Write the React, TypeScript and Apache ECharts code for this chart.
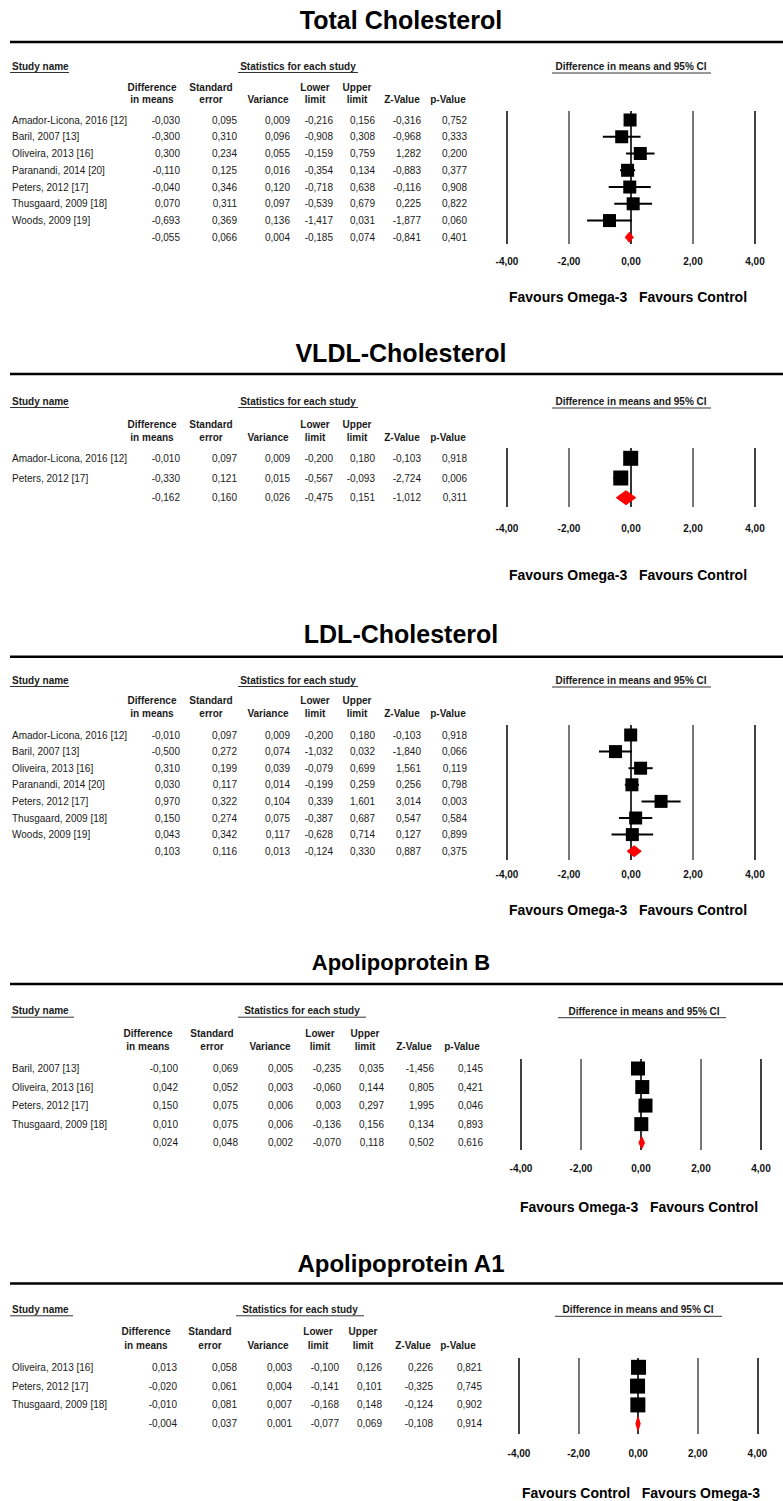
import React, { useEffect, useRef } from "react";
import * as echarts from "echarts";

// ---------- Data ----------
const tickValues = [-4, -2, 0, 2, 4];

const tcStudies = ["Amador-Licona, 2016 [12]", "Baril, 2007 [13]", "Oliveira, 2013 [16]", "Paranandi, 2014 [20]", "Peters, 2012 [17]", "Thusgaard, 2009 [18]", "Woods, 2009 [19]"];
const tcDiff = [-0.03, -0.3, 0.3, -0.11, -0.04, 0.07, -0.693, -0.055];
const tcSE = [0.095, 0.31, 0.234, 0.125, 0.346, 0.311, 0.369, 0.066];
const tcVar = [0.009, 0.096, 0.055, 0.016, 0.12, 0.097, 0.136, 0.004];
const tcLower = [-0.216, -0.908, -0.159, -0.354, -0.718, -0.539, -1.417, -0.185];
const tcUpper = [0.156, 0.308, 0.759, 0.134, 0.638, 0.679, 0.031, 0.074];
const tcZ = [-0.316, -0.968, 1.282, -0.883, -0.116, 0.225, -1.877, -0.841];
const tcP = [0.752, 0.333, 0.2, 0.377, 0.908, 0.822, 0.06, 0.401];

const vlStudies = ["Amador-Licona, 2016 [12]", "Peters, 2012 [17]"];
const vlDiff = [-0.01, -0.33, -0.162];
const vlSE = [0.097, 0.121, 0.16];
const vlVar = [0.009, 0.015, 0.026];
const vlLower = [-0.2, -0.567, -0.475];
const vlUpper = [0.18, -0.093, 0.151];
const vlZ = [-0.103, -2.724, -1.012];
const vlP = [0.918, 0.006, 0.311];

const ldStudies = ["Amador-Licona, 2016 [12]", "Baril, 2007 [13]", "Oliveira, 2013 [16]", "Paranandi, 2014 [20]", "Peters, 2012 [17]", "Thusgaard, 2009 [18]", "Woods, 2009 [19]"];
const ldDiff = [-0.01, -0.5, 0.31, 0.03, 0.97, 0.15, 0.043, 0.103];
const ldSE = [0.097, 0.272, 0.199, 0.117, 0.322, 0.274, 0.342, 0.116];
const ldVar = [0.009, 0.074, 0.039, 0.014, 0.104, 0.075, 0.117, 0.013];
const ldLower = [-0.2, -1.032, -0.079, -0.199, 0.339, -0.387, -0.628, -0.124];
const ldUpper = [0.18, 0.032, 0.699, 0.259, 1.601, 0.687, 0.714, 0.33];
const ldZ = [-0.103, -1.84, 1.561, 0.256, 3.014, 0.547, 0.127, 0.887];
const ldP = [0.918, 0.066, 0.119, 0.798, 0.003, 0.584, 0.899, 0.375];

const abStudies = ["Baril, 2007 [13]", "Oliveira, 2013 [16]", "Peters, 2012 [17]", "Thusgaard, 2009 [18]"];
const abDiff = [-0.1, 0.042, 0.15, 0.01, 0.024];
const abSE = [0.069, 0.052, 0.075, 0.075, 0.048];
const abVar = [0.005, 0.003, 0.006, 0.006, 0.002];
const abLower = [-0.235, -0.06, 0.003, -0.136, -0.07];
const abUpper = [0.035, 0.144, 0.297, 0.156, 0.118];
const abZ = [-1.456, 0.805, 1.995, 0.134, 0.502];
const abP = [0.145, 0.421, 0.046, 0.893, 0.616];

const aaStudies = ["Oliveira, 2013 [16]", "Peters, 2012 [17]", "Thusgaard, 2009 [18]"];
const aaDiff = [0.013, -0.02, -0.01, -0.004];
const aaSE = [0.058, 0.061, 0.081, 0.037];
const aaVar = [0.003, 0.004, 0.007, 0.001];
const aaLower = [-0.1, -0.141, -0.168, -0.077];
const aaUpper = [0.126, 0.101, 0.148, 0.069];
const aaZ = [0.226, -0.325, -0.124, -0.108];
const aaP = [0.821, 0.745, 0.902, 0.914];

const titles = ["Total Cholesterol", "VLDL-Cholesterol", "LDL-Cholesterol", "Apolipoprotein B", "Apolipoprotein A1"];
const favoursText = [
  "Favours Omega-3   Favours Control",
  "Favours Omega-3   Favours Control",
  "Favours Omega-3   Favours Control",
  "Favours Omega-3   Favours Control",
  "Favours Control   Favours Omega-3",
];
const headLine1 = ["Difference", "Standard", "", "Lower", "Upper", "", ""];
const headLine2 = ["in means", "error", "Variance", "limit", "limit", "Z-Value", "p-Value"];

const panels = [
  { studies: tcStudies, cols: [tcDiff, tcSE, tcVar, tcLower, tcUpper, tcZ, tcP] },
  { studies: vlStudies, cols: [vlDiff, vlSE, vlVar, vlLower, vlUpper, vlZ, vlP] },
  { studies: ldStudies, cols: [ldDiff, ldSE, ldVar, ldLower, ldUpper, ldZ, ldP] },
  { studies: abStudies, cols: [abDiff, abSE, abVar, abLower, abUpper, abZ, abP] },
  { studies: aaStudies, cols: [aaDiff, aaSE, aaVar, aaLower, aaUpper, aaZ, aaP] },
];

// ---------- Layout (pixels) ----------
const colsA = { right: [180, 237, 290, 333, 375, 421, 467], head: [152, 211, 268, 315, 357, 402, 448] };
const layouts = [
  { titleY: 19.5, titleSize: 25, ruleY: 42, subY: 66, h1: 87, h2: 99, rowStart: 120, rowStep: 16.76, gTop: 111, gBot: 244, xL: 507, xR: 755, margin: 12, favY: 296.7, favX: 628, ciX: 631, ciU: [552, 711], statX: 298, statU: [238, 358], studyU: [10, 69], cols: colsA, sq: 13, dh: 5 },
  { titleY: 353, titleSize: 25, ruleY: 374, subY: 401, h1: 424, h2: 437, rowStart: 458.3, rowStep: 19.7, gTop: 448, gBot: 507, xL: 507, xR: 755, margin: 16, favY: 575, favX: 628, ciX: 631, ciU: [552, 711], statX: 298, statU: [238, 358], studyU: [10, 69], cols: colsA, sq: 15, dh: 7 },
  { titleY: 634, titleSize: 25, ruleY: 656.7, subY: 680, h1: 700.7, h2: 713.7, rowStart: 735, rowStep: 16.6, gTop: 725, gBot: 860, xL: 507, xR: 755, margin: 9.5, favY: 910, favX: 628, ciX: 631, ciU: [552, 711], statX: 298, statU: [238, 358], studyU: [10, 69], cols: colsA, sq: 13, dh: 5.5 },
  { titleY: 962, titleSize: 22, ruleY: 984, subY: 1010.7, h1: 1033.3, h2: 1046, rowStart: 1068.5, rowStep: 18.55, gTop: 1059, gBot: 1150, xL: 521, xR: 761, margin: 13, favY: 1206.7, favX: 639, ciX: 644, ciU: [558, 726], statX: 302, statU: [238, 366], studyU: [11, 74], cols: { right: [178, 238, 293, 341, 384, 434, 483], head: [148, 212, 270, 320, 365, 414, 462] }, sq: 14, dh: 6 },
  { titleY: 1263, titleSize: 24, ruleY: 1283.5, subY: 1309.3, h1: 1331.7, h2: 1345, rowStart: 1367.3, rowStep: 18.8, gTop: 1358, gBot: 1434, xL: 519, xR: 757.3, margin: 14, favY: 1493.3, favX: 641, ciX: 638, ciU: [555, 722], statX: 300, statU: [236, 364], studyU: [10, 73], cols: { right: [177, 237, 292, 339, 382, 433, 482], head: [146, 210, 268, 318, 363, 413, 458] }, sq: 15, dh: 7 },
];

const FONT = "'Liberation Sans', Arial, Helvetica, sans-serif";
const fmt = (v: number) => v.toFixed(3).replace(".", ",");
const tickFmt = (v: number) => v.toFixed(2).replace(".", ",");

function txt(x: number, y: number, text: string, size: number, bold: boolean, align: string, fill = "#1a1a1a") {
  return {
    type: "text",
    x,
    y,
    silent: true,
    style: { text, fontSize: size, fontWeight: bold ? "bold" : "normal", fontFamily: FONT, fill, align, verticalAlign: "middle" },
  };
}
function ln(x1: number, y1: number, x2: number, y2: number, w: number, color = "#000") {
  return { type: "line", silent: true, shape: { x1, y1, x2, y2 }, style: { stroke: color, lineWidth: w } };
}

function buildOption() {
  const graphic: any[] = [];
  const grid: any[] = [];
  const xAxis: any[] = [];
  const yAxis: any[] = [];
  const series: any[] = [];

  panels.forEach((p, i) => {
    const L = layouts[i];
    const n = p.studies.length;
    graphic.push(txt(401, L.titleY, titles[i], L.titleSize, true, "center", "#000"));
    graphic.push(ln(10, L.ruleY, 783, L.ruleY, 2.5, "#000"));
    graphic.push(txt(12, L.subY, "Study name", 10, true, "left"));
    graphic.push(ln(L.studyU[0], L.subY + 6.5, L.studyU[1], L.subY + 6.5, 1, "#333"));
    graphic.push(txt(L.statX, L.subY, "Statistics for each study", 10, true, "center"));
    graphic.push(ln(L.statU[0], L.subY + 6.5, L.statU[1], L.subY + 6.5, 1, "#333"));
    graphic.push(txt(L.ciX, L.subY + 0.5, "Difference in means and 95% CI", 10, true, "center"));
    graphic.push(ln(L.ciU[0], L.subY + 7, L.ciU[1], L.subY + 7, 1, "#333"));
    headLine1.forEach((h, c) => { if (h) graphic.push(txt(L.cols.head[c], L.h1, h, 10, true, "center")); });
    headLine2.forEach((h, c) => graphic.push(txt(L.cols.head[c], L.h2, h, 10, true, "center")));
    for (let r = 0; r <= n; r++) {
      const y = L.rowStart + r * L.rowStep;
      if (r < n) graphic.push(txt(12, y, p.studies[r], 10, false, "left"));
      p.cols.forEach((col, c) => graphic.push(txt(L.cols.right[c], y, fmt(col[r]), 10, false, "right")));
    }
    graphic.push(txt(L.favX, L.favY, favoursText[i], 14, true, "center", "#000"));

    grid.push({ left: L.xL, width: L.xR - L.xL, top: L.gTop, height: L.gBot - L.gTop, containLabel: false });
    xAxis.push({
      type: "value",
      gridIndex: i,
      min: tickValues[0],
      max: tickValues[tickValues.length - 1],
      interval: tickValues[1] - tickValues[0],
      axisLine: { show: false },
      axisTick: { show: false },
      axisLabel: { formatter: tickFmt, fontSize: 10, fontWeight: "bold", fontFamily: FONT, color: "#111", margin: L.margin, showMinLabel: true, showMaxLabel: true },
      splitLine: { show: true, lineStyle: { color: ["#111", "#555", "#000", "#555", "#111"], width: 1.6 } },
    });
    yAxis.push({
      type: "value",
      gridIndex: i,
      inverse: true,
      show: false,
      min: (L.gTop - L.rowStart) / L.rowStep,
      max: (L.gBot - L.rowStart) / L.rowStep,
    });
    const diff = p.cols[0], lower = p.cols[3], upper = p.cols[4];
    const studyData = p.studies.map((_, r) => [diff[r], lower[r], upper[r], r]);
    const sq = L.sq;
    series.push({
      type: "custom",
      xAxisIndex: i,
      yAxisIndex: i,
      encode: { x: [0, 1, 2], y: 3 },
      data: studyData,
      renderItem: (params: any, api: any) => {
        const row = api.value(3);
        const pm = api.coord([api.value(0), row]);
        const pl = api.coord([api.value(1), row]);
        const ph = api.coord([api.value(2), row]);
        return {
          type: "group",
          children: [
            { type: "line", shape: { x1: pl[0], y1: pl[1], x2: ph[0], y2: ph[1] }, style: { stroke: "#000", lineWidth: 2 } },
            { type: "rect", shape: { x: pm[0] - sq / 2, y: pm[1] - sq / 2, width: sq, height: sq }, style: { fill: "#000" } },
          ],
        };
      },
    });
    const dh = L.dh;
    series.push({
      type: "custom",
      xAxisIndex: i,
      yAxisIndex: i,
      encode: { x: [0, 1, 2], y: 3 },
      data: [[diff[n], lower[n], upper[n], n]],
      renderItem: (params: any, api: any) => {
        const row = api.value(3);
        const pm = api.coord([api.value(0), row]);
        const pl = api.coord([api.value(1), row]);
        const ph = api.coord([api.value(2), row]);
        return {
          type: "polygon",
          shape: { points: [[pl[0], pm[1]], [pm[0], pm[1] - dh], [ph[0], pm[1]], [pm[0], pm[1] + dh]] },
          style: { fill: "#ff0000", stroke: "#ff0000", lineWidth: 1 },
        };
      },
    });
  });

  return { animation: false, backgroundColor: "#fff", grid, xAxis, yAxis, series, graphic };
}

export default function App() {
  const ref = useRef<HTMLDivElement>(null);
  useEffect(() => {
    if (!ref.current) return;
    const chart = echarts.init(ref.current, undefined, { renderer: "svg" });
    chart.setOption(buildOption() as any);
    return () => chart.dispose();
  }, []);
  return <div ref={ref} style={{ position: "absolute", left: 0, top: 0, width: 783, height: 1501, background: "#fff" }} />;
}
